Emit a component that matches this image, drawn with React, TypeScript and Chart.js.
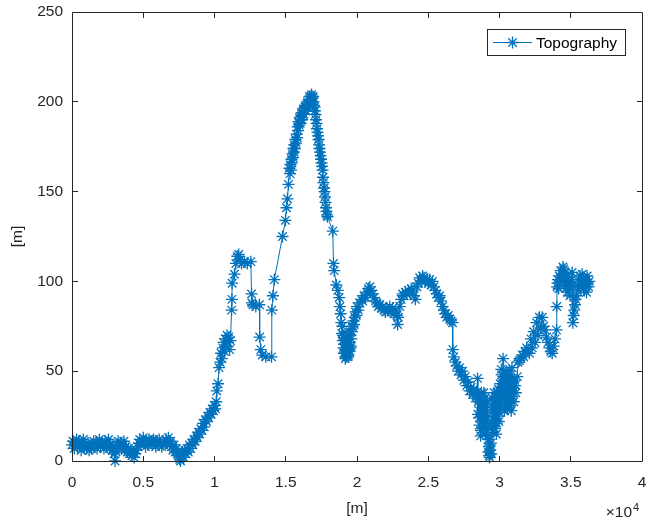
import React, { useEffect, useRef } from "react";
import { Chart, registerables } from "chart.js";

Chart.register(...registerables);

// ---------- data ----------
const SERIES_LABEL = "Topography";
const X_AXIS_LABEL = "[m]";
const Y_AXIS_LABEL = "[m]";
const X_EXPONENT = "4";
const X_SCALE_FACTOR = 10000;
const X_MIN = 0;
const X_MAX = 40000;
const X_STEP = 5000;
const Y_MIN = 0;
const Y_MAX = 250;
const Y_STEP = 50;

// [distance m, elevation m]
const profileFlat: [number, number][] = [
  [0, 9], [80, 11], [160, 7], [240, 10], [320, 12], [400, 8], [480, 11], [560, 9], [640, 6], [720, 10],
  [800, 12], [880, 8], [960, 9], [1040, 7], [1120, 10], [1200, 6], [1280, 8], [1360, 7], [1440, 9], [1520, 11],
  [1600, 8], [1680, 10], [1760, 7], [1840, 9], [1920, 12], [2000, 8], [2080, 10], [2160, 9], [2240, 7], [2320, 11],
  [2400, 8], [2480, 10], [2560, 12], [2640, 7], [2720, 9], [2800, 6], [2880, 8], [2960, 4], [3020, 0], [3080, 5],
  [3160, 9], [3240, 11], [3320, 8], [3400, 10], [3480, 7], [3560, 9], [3640, 11], [3720, 6], [3800, 8], [3880, 5],
  [3960, 7], [4040, 4], [4120, 6], [4200, 3], [4280, 5], [4360, 2], [4440, 4], [4520, 6], [4600, 8], [4680, 10],
  [4760, 12], [4840, 9], [4920, 11], [5000, 13], [5080, 10], [5160, 8], [5240, 11], [5320, 9], [5400, 12], [5480, 10],
  [5560, 11], [5640, 9], [5720, 12], [5800, 10], [5880, 8], [5960, 11], [6040, 9], [6120, 12], [6200, 10], [6300, 8],
  [6400, 9], [6600, 12], [6680, 10], [6760, 13], [6840, 9], [6920, 11], [7000, 8], [7080, 6], [7160, 9], [7240, 5],
  [7320, 7], [7400, 4], [7480, 3], [7560, 1], [7620, 0], [7680, 3], [7760, 5], [7840, 2], [7920, 6], [8000, 4],
];

const profileRise: [number, number][] = [
  [8080, 7], [8160, 5], [8240, 9], [8320, 7], [8400, 10], [8480, 9], [8560, 12], [8640, 11], [8720, 14], [8800, 13],
  [8880, 16], [8960, 15], [9040, 18], [9120, 17], [9200, 21], [9280, 19], [9360, 23], [9440, 22], [9520, 25], [9600, 24],
  [9680, 27], [9760, 26], [9840, 29], [9920, 28], [10000, 31], [10060, 29], [10120, 33], [10160, 39], [10250, 43], [10320, 52],
  [10400, 55], [10460, 60], [10520, 57], [10580, 63], [10640, 66], [10700, 61], [10760, 68], [10820, 64], [10880, 70], [10940, 66],
  [11000, 69], [11060, 62], [11120, 67], [11200, 84], [11220, 90], [11240, 99], [11400, 104], [11500, 110], [11600, 114], [11700, 115],
  [11800, 112], [11900, 110], [12100, 111], [12300, 110], [12550, 111], [12600, 93], [12620, 88], [12700, 87], [12900, 86], [13150, 87],
  [13170, 69], [13250, 62], [13350, 59], [13600, 58], [14000, 58], [14020, 84], [14100, 92], [14200, 101],
];

const profilePeak: [number, number][] = [
  [14770, 125], [14980, 134], [15050, 141], [15120, 146], [15190, 154], [15260, 163], [15300, 160], [15330, 165], [15370, 162], [15400, 168],
  [15440, 166], [15470, 171], [15510, 169], [15540, 174], [15570, 172], [15600, 176], [15640, 174], [15680, 179], [15720, 177], [15760, 182],
  [15800, 180], [15830, 186], [15870, 184], [15900, 189], [15940, 187], [15970, 191], [16010, 188], [16040, 190], [16075, 192], [16110, 194],
  [16145, 190], [16180, 193], [16215, 195], [16250, 196], [16285, 193], [16320, 195], [16355, 197], [16390, 198], [16425, 195], [16460, 197],
  [16495, 199], [16530, 200], [16565, 197], [16600, 199], [16635, 201], [16670, 203], [16705, 199], [16740, 201], [16775, 203], [16810, 204],
  [16845, 200], [16880, 202], [16915, 203], [16950, 200], [16985, 198], [17020, 197], [17055, 195], [17090, 193], [17125, 190], [17160, 188],
  [17195, 185], [17230, 183], [17265, 181], [17300, 179], [17335, 176], [17370, 174], [17405, 172], [17440, 170], [17475, 168], [17510, 166],
  [17545, 164], [17580, 162], [17615, 158], [17650, 155], [17685, 152], [17720, 150], [17755, 147], [17790, 144], [17825, 141], [17860, 139],
  [17895, 137], [17930, 136], [18300, 128],
];

const profileValley: [number, number][] = [
  [18350, 110], [18400, 106], [18550, 98], [18650, 95], [18750, 91], [18800, 86], [18850, 82], [18900, 77], [18950, 71], [18975, 75],
  [19000, 67], [19025, 70], [19050, 63], [19075, 60], [19100, 65], [19125, 68], [19150, 60], [19175, 57], [19200, 62], [19225, 65],
  [19250, 58], [19275, 60], [19300, 61], [19325, 70], [19350, 64], [19375, 58], [19400, 59], [19425, 66], [19450, 62], [19475, 61],
  [19500, 66], [19525, 72], [19550, 63], [19575, 64], [19600, 68], [19625, 75], [19650, 72], [19700, 75], [19750, 78], [19800, 76],
  [19850, 80], [19900, 83], [19950, 81], [20000, 86], [20100, 84], [20200, 88], [20300, 90], [20400, 89], [20500, 92], [20600, 91],
  [20700, 94], [20800, 96], [20900, 97], [21000, 95], [21100, 93], [21200, 91], [21300, 89], [21400, 88], [21500, 86], [21600, 87],
  [21700, 85], [21800, 86], [21900, 84], [22000, 83], [22100, 85], [22200, 84], [22300, 86], [22400, 83], [22500, 85], [22600, 82],
  [22700, 84], [22800, 81], [22850, 76], [22900, 80], [23000, 86], [23100, 90], [23200, 93], [23300, 92], [23400, 94], [23500, 93],
  [23600, 95], [23700, 94], [23800, 96], [23900, 95], [24000, 92], [24100, 90], [24200, 97], [24300, 99], [24400, 102], [24500, 100],
  [24600, 103], [24700, 102], [24800, 100], [24900, 101], [25000, 99], [25100, 101], [25200, 98], [25300, 100], [25400, 97], [25500, 95],
  [25600, 93], [25700, 91], [25800, 92], [25900, 89], [26000, 86], [26100, 84], [26200, 82], [26300, 80], [26400, 81], [26500, 79],
  [26600, 78], [26700, 77],
];

const profileSouth: [number, number][] = [
  [26720, 62], [26800, 58], [26900, 55], [27000, 53], [27100, 50], [27200, 52], [27300, 48], [27400, 50], [27500, 45], [27600, 47],
  [27700, 42], [27800, 44], [27900, 39], [28000, 41], [28100, 37], [28200, 40], [28300, 35], [28400, 38], [28460, 46], [28480, 26],
  [28520, 33], [28560, 36], [28580, 24], [28600, 20], [28625, 35], [28650, 30], [28675, 14], [28700, 17], [28725, 38], [28750, 25],
  [28775, 29], [28800, 34], [28825, 18], [28850, 22], [28875, 31], [28900, 38], [28925, 25], [28950, 28], [28975, 35], [29000, 15],
  [29025, 27], [29050, 32], [29075, 21], [29100, 19], [29125, 33], [29150, 24], [29175, 14], [29200, 12], [29225, 5], [29250, 8],
  [29275, 3], [29300, 2], [29325, 9], [29350, 6], [29375, 4], [29400, 10], [29420, 4], [29450, 20], [29475, 35], [29500, 28],
  [29525, 19], [29550, 16], [29575, 30], [29600, 23], [29625, 38], [29650, 32], [29675, 18], [29700, 22], [29725, 34], [29750, 27],
  [29775, 15], [29800, 21], [29825, 29], [29850, 38], [29875, 25], [29900, 30], [29925, 40], [29950, 22], [30000, 34], [30025, 27],
  [30050, 43], [30075, 38], [30100, 30], [30125, 51], [30150, 48], [30175, 40], [30200, 36], [30250, 57], [30275, 47], [30300, 45],
  [30325, 35], [30350, 28], [30375, 44], [30400, 40], [30425, 30], [30450, 33], [30475, 46], [30500, 50], [30525, 37], [30550, 29],
  [30575, 48], [30600, 42], [30625, 32], [30650, 35], [30675, 50], [30700, 46], [30725, 38], [30750, 31], [30775, 45], [30800, 39],
  [30825, 28], [30850, 44], [30875, 52], [30900, 36], [30950, 41], [31000, 33], [31050, 45], [31100, 42], [31150, 38], [31250, 47],
  [31300, 55], [31400, 56], [31500, 57], [31600, 59], [31700, 58], [31800, 61], [31900, 63], [32000, 62], [32100, 60], [32200, 68],
  [32300, 63], [32400, 72], [32500, 66], [32600, 77], [32700, 70], [32800, 80], [32900, 74], [33000, 80], [33100, 75], [33200, 73],
  [33300, 69], [33400, 66], [33500, 63], [33600, 61], [33700, 60], [33800, 64], [33900, 68], [34000, 73],
];

const profileEast: [number, number][] = [
  [34020, 86], [34040, 97], [34070, 99], [34100, 101], [34150, 96], [34200, 103], [34250, 100], [34300, 106], [34350, 102], [34400, 104],
  [34450, 108], [34500, 107], [34550, 100], [34600, 102], [34650, 96], [34700, 99], [34750, 94], [34800, 104], [34850, 97], [34900, 100],
  [34950, 92], [35000, 97], [35050, 101], [35100, 105], [35150, 77], [35200, 81], [35250, 84], [35300, 87], [35350, 90], [35400, 92],
  [35450, 95], [35500, 98], [35550, 100], [35600, 97], [35650, 103], [35700, 100], [35750, 98], [35800, 104], [35850, 101], [35900, 96],
  [35950, 95], [36000, 100], [36050, 99], [36100, 94], [36150, 103], [36200, 99], [36250, 97], [36300, 100],
];

// ---------- style ----------
const INK = "#262626";
const BLUE = "#0072BD";
const FONT_FAMILY = '"Liberation Sans", Arial, Helvetica, sans-serif';
const FONT_SIZE = 15.5;
const MARKER_RADIUS = 6;
const MARKER_WIDTH = 1.3;

const snap = (v: number) => Math.floor(v) + 0.5;
const noPadding = () => ({ left: 0, top: 0, right: 0, bottom: 0 });

function drawStar(ctx: CanvasRenderingContext2D, cx: number, cy: number, r: number) {
  const d = r * Math.SQRT1_2;
  ctx.beginPath();
  ctx.moveTo(cx - r, cy); ctx.lineTo(cx + r, cy);
  ctx.moveTo(cx, cy - r); ctx.lineTo(cx, cy + r);
  ctx.moveTo(cx - d, cy - d); ctx.lineTo(cx + d, cy + d);
  ctx.moveTo(cx - d, cy + d); ctx.lineTo(cx + d, cy - d);
  ctx.stroke();
}

const matlabFrame = {
  id: "matlabFrame",
  afterDatasetsDraw(chart: any) {
    const { ctx, chartArea: a, scales } = chart;
    const xs = scales.x;
    const ys = scales.y;
    const L = snap(a.left), R = snap(a.right), T = snap(a.top), B = snap(a.bottom);
    const tl = 5.5;
    ctx.save();
    ctx.strokeStyle = INK;
    ctx.lineWidth = 1;
    ctx.beginPath();
    ctx.rect(L, T, R - L, B - T);
    xs.ticks.forEach((t: any) => {
      const px = snap(xs.getPixelForValue(t.value));
      if (px <= L + 1 || px >= R - 1) return;
      ctx.moveTo(px, B); ctx.lineTo(px, B - tl);
      ctx.moveTo(px, T); ctx.lineTo(px, T + tl);
    });
    ys.ticks.forEach((t: any) => {
      const py = snap(ys.getPixelForValue(t.value));
      if (py <= T + 1 || py >= B - 1) return;
      ctx.moveTo(L, py); ctx.lineTo(L + tl, py);
      ctx.moveTo(R, py); ctx.lineTo(R - tl, py);
    });
    ctx.stroke();
    ctx.restore();
  },
  afterDraw(chart: any) {
    const { ctx } = chart;
    ctx.save();
    // exponent label of x axis
    ctx.fillStyle = INK;
    ctx.textBaseline = "alphabetic";
    ctx.textAlign = "right";
    ctx.font = `${FONT_SIZE}px ${FONT_FAMILY}`;
    ctx.fillText("\u00d710", 632, 517);
    ctx.textAlign = "left";
    ctx.font = `11px ${FONT_FAMILY}`;
    ctx.fillText(X_EXPONENT, 633, 511);

    // legend
    const lx = 487.5, ly = 29.5, lw = 138, lh = 26;
    ctx.fillStyle = "#ffffff";
    ctx.fillRect(lx, ly, lw, lh);
    ctx.strokeStyle = INK;
    ctx.lineWidth = 1;
    ctx.strokeRect(lx, ly, lw, lh);
    const cy = ly + lh / 2;
    ctx.strokeStyle = BLUE;
    ctx.beginPath();
    ctx.moveTo(493, cy); ctx.lineTo(532, cy);
    ctx.stroke();
    ctx.lineWidth = MARKER_WIDTH;
    drawStar(ctx, 512.5, cy, MARKER_RADIUS);
    ctx.fillStyle = "#000000";
    ctx.font = `${FONT_SIZE}px ${FONT_FAMILY}`;
    ctx.textBaseline = "middle";
    ctx.textAlign = "left";
    ctx.fillText(SERIES_LABEL, 536, cy + 1);
    ctx.restore();
  },
};

export default function App() {
  const canvasRef = useRef<HTMLCanvasElement | null>(null);

  useEffect(() => {
    const canvas = canvasRef.current;
    if (!canvas) return;
    const points = [
      ...profileFlat, ...profileRise, ...profilePeak, ...profileValley, ...profileSouth, ...profileEast,
    ].map(([x, y]) => ({ x, y }));

    const tickFont = { family: FONT_FAMILY, size: FONT_SIZE };

    const chart = new Chart(canvas, {
      type: "line",
      data: {
        datasets: [
          {
            label: SERIES_LABEL,
            data: points,
            borderColor: BLUE,
            borderWidth: 1,
            pointStyle: "star",
            pointRadius: MARKER_RADIUS,
            pointBorderColor: BLUE,
            pointBorderWidth: MARKER_WIDTH,
            pointBackgroundColor: BLUE,
            tension: 0,
            clip: false as any,
          },
        ],
      },
      options: {
        responsive: false,
        animation: false,
        events: [],
        layout: { autoPadding: false, padding: { top: 12, right: 4, left: 0, bottom: 0 } },
        plugins: {
          legend: { display: false },
          tooltip: { enabled: false },
        },
        scales: {
          x: {
            type: "linear",
            min: X_MIN,
            max: X_MAX,
            grid: { display: false, drawTicks: false },
            border: { display: false },
            ticks: {
              stepSize: X_STEP,
              color: INK,
              font: tickFont,
              padding: 12,
              maxRotation: 0,
              autoSkip: false,
              callback: (v: any) => String(Number(v) / X_SCALE_FACTOR),
            },
            title: {
              display: true,
              text: X_AXIS_LABEL,
              color: INK,
              font: tickFont,
              padding: { top: 9, bottom: 9 },
            },
            afterFit: (s: any) => {
              s.height = 66;
              s.paddingLeft = 0;
              s.paddingRight = 0;
              s.getPadding = noPadding;
            },
          },
          y: {
            type: "linear",
            min: Y_MIN,
            max: Y_MAX,
            grid: { display: false, drawTicks: false },
            border: { display: false },
            ticks: {
              stepSize: Y_STEP,
              color: INK,
              font: tickFont,
              padding: 9,
            },
            title: {
              display: true,
              text: Y_AXIS_LABEL,
              color: INK,
              font: tickFont,
              padding: { top: 8.7, bottom: 8.7 },
            },
            afterFit: (s: any) => {
              s.width = 72;
              s.paddingTop = 0;
              s.paddingBottom = 0;
              s.getPadding = noPadding;
            },
          },
        },
      },
      plugins: [matlabFrame],
    });
    return () => chart.destroy();
  }, []);

  return (
    <div style={{ position: "fixed", left: 0, top: 0, width: 646, height: 527, background: "#ffffff" }}>
      <canvas ref={canvasRef} width={646} height={527} style={{ display: "block" }} />
    </div>
  );
}
